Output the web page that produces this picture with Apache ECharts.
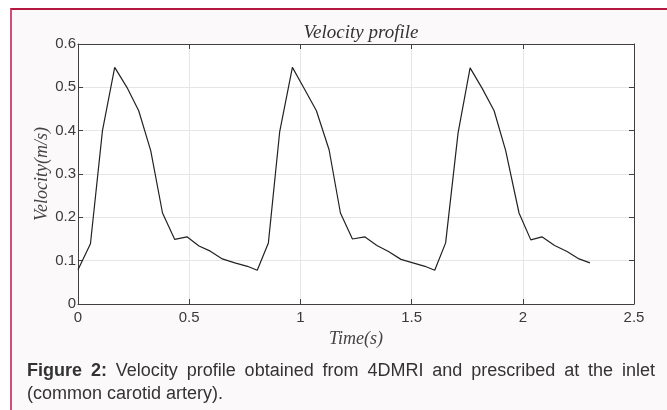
<!DOCTYPE html>
<html>
<head>
<meta charset="utf-8">
<script src="https://cdn.jsdelivr.net/npm/echarts@6/dist/echarts.min.js"></script>
<style>
  html, body {
    margin: 0;
    padding: 0;
    width: 667px;
    height: 410px;
    background: #ffffff;
    overflow: hidden;
  }

  .panel {
    position: absolute;
    left: 10px;
    top: 8px;
    width: 657px;
    height: 402px;
    box-sizing: border-box;
    background: #fbf9fa;
    border-top: 2px solid #b5173f;
    border-left: 2px solid #cf4f77;
  }

  #chart {
    position: absolute;
    left: 0;
    top: 0;
    width: 667px;
    height: 410px;
  }

  .caption {
    position: absolute;
    left: 27px;
    top: 359px;
    width: 628px;
    font-family: "Liberation Sans", Arial, sans-serif;
    font-size: 18px;
    line-height: 23px;
    color: #333333;
  }

  .caption .line1 {
    text-align: justify;
    text-align-last: justify;
  }
</style>
</head>
<body>
<div class="panel"></div>
<div id="chart"></div>
<div class="caption">
  <div class="line1"><b>Figure 2:</b> Velocity profile obtained from 4DMRI and prescribed at the inlet</div>
  <div>(common carotid artery).</div>
</div>

<script>
  // one array per heart cycle
  var cycle1Time = [0, 0.056, 0.11, 0.165, 0.22, 0.273, 0.327, 0.38, 0.435, 0.49, 0.544, 0.595, 0.649, 0.705, 0.762, 0.806]
  var cycle1Vel = [0.079, 0.139, 0.40, 0.546, 0.50, 0.446, 0.354, 0.21, 0.149, 0.155, 0.134, 0.122, 0.104, 0.095, 0.087, 0.078]

  var cycle2Time = [0.856, 0.907, 0.964, 1.012, 1.072, 1.129, 1.18, 1.234, 1.289, 1.344, 1.396, 1.452, 1.506, 1.56, 1.604]
  var cycle2Vel = [0.141, 0.398, 0.546, 0.502, 0.446, 0.356, 0.21, 0.15, 0.155, 0.135, 0.121, 0.103, 0.095, 0.087, 0.078]

  var cycle3Time = [1.653, 1.709, 1.763, 1.818, 1.871, 1.923, 1.983, 2.036, 2.086, 2.143, 2.199, 2.253, 2.302]
  var cycle3Vel = [0.141, 0.395, 0.545, 0.497, 0.446, 0.354, 0.21, 0.148, 0.155, 0.135, 0.121, 0.104, 0.095]

  var xTickLabels = ['0', '0.5', '1', '1.5', '2', '2.5']
  var yTickLabels = ['0', '0.1', '0.2', '0.3', '0.4', '0.5', '0.6']

  var timeAll = cycle1Time.concat(cycle2Time, cycle3Time)
  var velAll = cycle1Vel.concat(cycle2Vel, cycle3Vel)
  var points = timeAll.map(function (t, i) { return [t, velAll[i]] })

  var axisColor = '#404040'
  var mathFont = '"Liberation Serif", "DejaVu Serif", serif'
  var tickFont = '"Liberation Sans", Arial, sans-serif'

  // mirrored axes (top / right) only draw the box and inward ticks
  function boxAxis(type, pos, max, interval) {
    return {
      type: type,
      position: pos,
      min: 0,
      max: max,
      interval: interval,
      axisLine: { show: true, onZero: false, lineStyle: { color: axisColor, width: 1 } },
      axisTick: { show: true, inside: true, length: 5, lineStyle: { color: axisColor } },
      axisLabel: { show: false },
      splitLine: { show: false }
    }
  }

  var chart = echarts.init(document.getElementById('chart'), null, { renderer: 'canvas' })

  chart.setOption({
    backgroundColor: 'transparent',
    animation: false,
    title: {
      text: 'Velocity profile',
      left: 356,
      top: 18,
      textAlign: 'center',
      textStyle: {
        fontFamily: mathFont,
        fontStyle: 'italic',
        fontWeight: 'normal',
        fontSize: 19,
        color: '#333333'
      }
    },
    // y axis name placed by hand, the axis name kept getting pushed left
    graphic: [
      {
        type: 'text',
        x: 42,
        y: 174,
        rotation: Math.PI / 2,
        style: {
          text: 'Velocity(m/s)',
          align: 'center',
          verticalAlign: 'middle',
          font: 'italic 18px ' + mathFont,
          fill: '#444444'
        }
      }
    ],
    grid: {
      left: 78,
      right: 33,
      top: 44,
      bottom: 106,
      show: true,
      backgroundColor: '#ffffff',
      borderWidth: 0
    },
    xAxis: [
      {
        type: 'value',
        position: 'bottom',
        min: 0,
        max: 2.5,
        interval: 0.5,
        name: 'Time(s)',
        nameLocation: 'middle',
        nameGap: 23,
        nameTextStyle: {
          fontFamily: mathFont,
          fontStyle: 'italic',
          fontSize: 18,
          color: '#444444'
        },
        axisLine: { show: true, onZero: false, lineStyle: { color: axisColor, width: 1 } },
        axisTick: { show: true, inside: true, length: 5, lineStyle: { color: axisColor } },
        axisLabel: {
          margin: 6,
          fontFamily: tickFont,
          fontSize: 15,
          color: '#3a3a3a',
          formatter: function (v, i) { return xTickLabels[i] }
        },
        splitLine: { show: true, lineStyle: { color: '#e6e6e6', width: 1 } }
      },
      boxAxis('value', 'top', 2.5, 0.5)
    ],
    yAxis: [
      {
        type: 'value',
        position: 'left',
        min: 0,
        max: 0.6,
        interval: 0.1,
        axisLine: { show: true, onZero: false, lineStyle: { color: axisColor, width: 1 } },
        axisTick: { show: true, inside: true, length: 5, lineStyle: { color: axisColor } },
        axisLabel: {
          margin: 2,
          fontFamily: tickFont,
          fontSize: 15,
          color: '#3a3a3a',
          formatter: function (v, i) { return yTickLabels[i] }
        },
        splitLine: { show: true, lineStyle: { color: '#e6e6e6', width: 1 } }
      },
      boxAxis('value', 'right', 0.6, 0.1)
    ],
    series: [
      {
        name: 'velocity',
        type: 'line',
        xAxisIndex: 0,
        yAxisIndex: 0,
        data: points,
        showSymbol: false,
        symbol: 'none',
        lineStyle: { color: '#222222', width: 1.2 }
      }
    ]
  })
</script>
</body>
</html>
